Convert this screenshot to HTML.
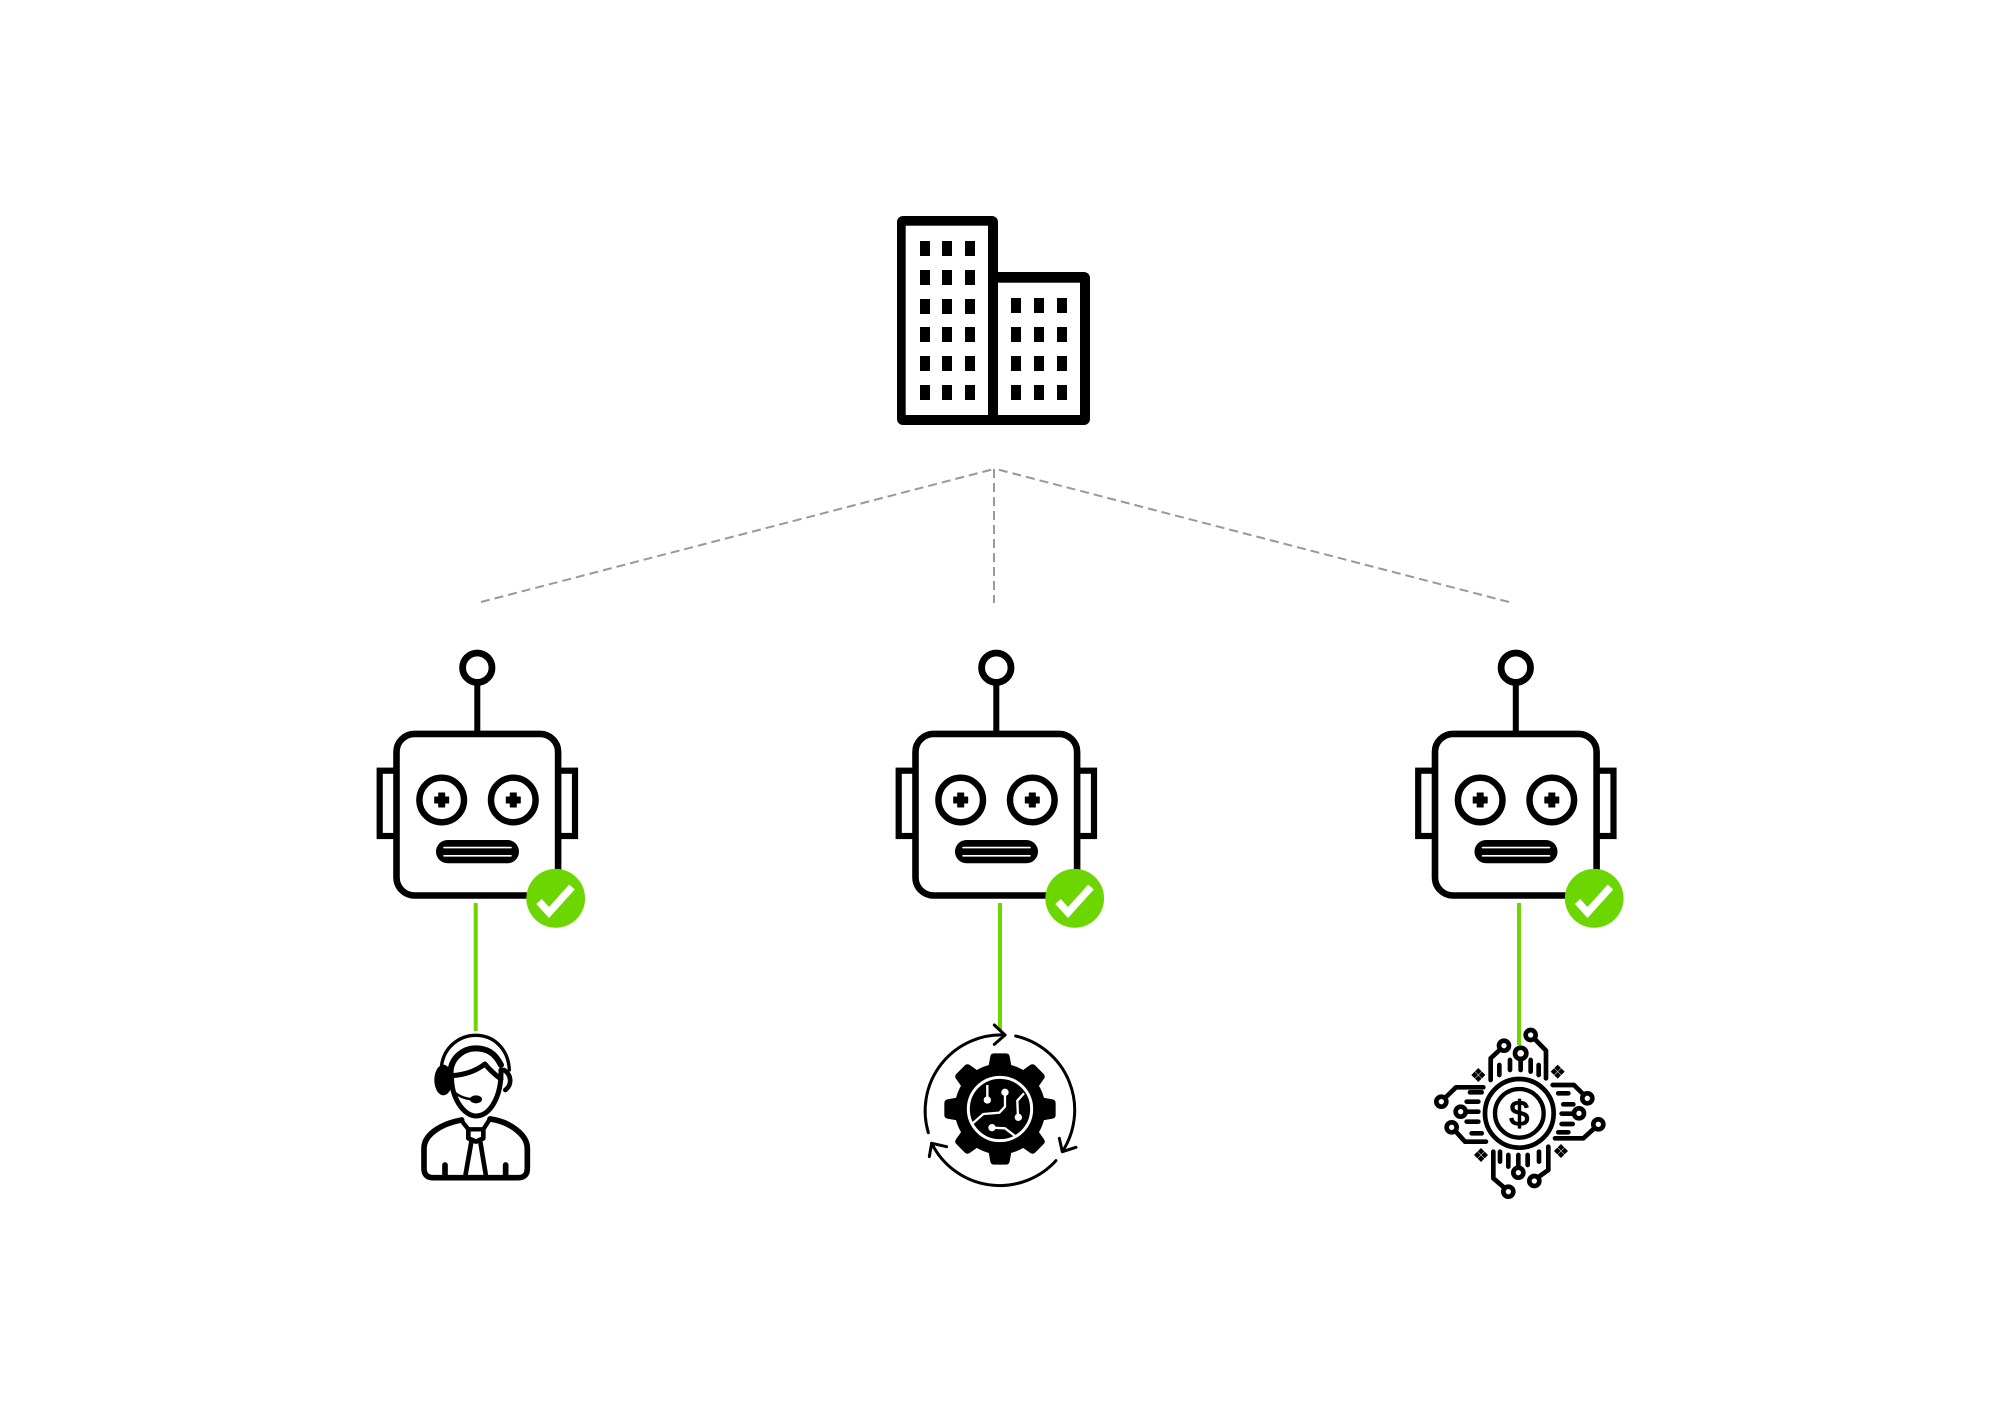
<!DOCTYPE html>
<html>
<head>
<meta charset="utf-8">
<style>
html,body{margin:0;padding:0;background:#fff}
svg{display:block}
</style>
</head>
<body>
<svg xmlns="http://www.w3.org/2000/svg" width="2000" height="1414" viewBox="0 0 2000 1414">
<rect width="2000" height="1414" fill="#fff"/>
<defs>
<g id="robot">
  <rect x="379.7" y="770.7" width="20" height="65.3" fill="#fff" stroke="#000" stroke-width="6.2"/>
  <rect x="555" y="770.7" width="20" height="65.3" fill="#fff" stroke="#000" stroke-width="6.2"/>
  <circle cx="477.3" cy="667.7" r="14.7" fill="#fff" stroke="#000" stroke-width="6.8"/>
  <rect x="474.3" y="682" width="6" height="52" fill="#000"/>
  <rect x="396.5" y="733.9" width="161.6" height="161.6" rx="18" fill="#fff" stroke="#000" stroke-width="6.6"/>
  <circle cx="441.7" cy="800" r="22.3" fill="#fff" stroke="#000" stroke-width="6.4"/>
  <circle cx="513.3" cy="800" r="22.3" fill="#fff" stroke="#000" stroke-width="6.4"/>
  <path d="M438.7 793h6v4h4v6h-4v4h-6v-4h-4v-6h4z" fill="#000" stroke="#000" stroke-width="1" stroke-linejoin="round"/>
  <path d="M510.3 793h6v4h4v6h-4v4h-6v-4h-4v-6h4z" fill="#000" stroke="#000" stroke-width="1" stroke-linejoin="round"/>
  <rect x="436" y="840" width="83" height="23.3" rx="11.6" fill="#000"/>
  <path d="M444 847.6H511M444 855.8H511" stroke="#fff" stroke-width="1.6" stroke-linecap="round"/>
  <circle cx="555.7" cy="898.3" r="29.4" fill="#6cd700"/>
  <path d="M539 901.5L549 912.5L572 887" fill="none" stroke="#fff" stroke-width="7.4"/>
</g>
<path id="tooth" d="M-40-95L-29-158Q-27-167-18-167H18Q27-167 29-158L40-95Z" fill="#000"/>
</defs>

<!-- dashed connectors -->
<g fill="none" stroke="#999" stroke-width="2" stroke-dasharray="9 5">
  <path d="M481 602L994 469"/>
  <path d="M994 469V603"/>
  <path d="M1509 602L996 469"/>
</g>

<!-- building -->
<path d="M897 222a6 6 0 0 1 6-6h89a6 6 0 0 1 6 6v50h86a6 6 0 0 1 6 6v141a6 6 0 0 1-6 6H903a6 6 0 0 1-6-6z" fill="#000"/>
<rect x="905.7" y="225.7" width="82.3" height="189.3" fill="#fff"/>
<rect x="998" y="282.7" width="82" height="132.3" fill="#fff"/>
<g fill="#000">
  <rect x="920" y="241" width="10" height="15"/><rect x="942" y="241" width="10" height="15"/><rect x="965" y="241" width="10" height="15"/>
  <rect x="920" y="270" width="10" height="15"/><rect x="942" y="270" width="10" height="15"/><rect x="965" y="270" width="10" height="15"/>
  <rect x="920" y="299" width="10" height="15"/><rect x="942" y="299" width="10" height="15"/><rect x="965" y="299" width="10" height="15"/>
  <rect x="920" y="327" width="10" height="15"/><rect x="942" y="327" width="10" height="15"/><rect x="965" y="327" width="10" height="15"/>
  <rect x="920" y="356" width="10" height="15"/><rect x="942" y="356" width="10" height="15"/><rect x="965" y="356" width="10" height="15"/>
  <rect x="920" y="385" width="10" height="15"/><rect x="942" y="385" width="10" height="15"/><rect x="965" y="385" width="10" height="15"/>
  <rect x="1011" y="298" width="10" height="15"/><rect x="1034" y="298" width="10" height="15"/><rect x="1057" y="298" width="10" height="15"/>
  <rect x="1011" y="327" width="10" height="15"/><rect x="1034" y="327" width="10" height="15"/><rect x="1057" y="327" width="10" height="15"/>
  <rect x="1011" y="356" width="10" height="15"/><rect x="1034" y="356" width="10" height="15"/><rect x="1057" y="356" width="10" height="15"/>
  <rect x="1011" y="385" width="10" height="15"/><rect x="1034" y="385" width="10" height="15"/><rect x="1057" y="385" width="10" height="15"/>
</g>

<!-- green links -->
<g fill="#6cd700">
  <rect x="473.7" y="903" width="4" height="128"/>
  <rect x="998" y="903" width="4" height="128"/>
  <rect x="1517" y="903" width="4" height="142"/>
</g>

<!-- robots -->
<use href="#robot"/>
<use href="#robot" x="519"/>
<use href="#robot" x="1038.5"/>

<!-- agent -->
<g transform="translate(400 1010) scale(.3333)" fill="none" stroke="#000" stroke-linecap="round" stroke-linejoin="round">
  <path d="M124 172C130 110 180 76 227 76C280 76 325 115 328 180" stroke-width="10"/>
  <ellipse cx="130" cy="210" rx="27" ry="46" fill="#000" stroke="none"/>
  <path d="M312 180C336 195 336 225 316 240" stroke-width="14"/>
  <path d="M152 195C148 150 185 115 228 115C262 115 285 130 303 165" stroke-width="18"/>
  <path d="M155 197C190 195 225 185 255 162C265 175 285 195 303 207" stroke-width="15"/>
  <path d="M155 197C152 260 190 318 228 318C270 318 305 260 303 180" stroke-width="15"/>
  <path d="M160 245C175 258 190 265 215 268" stroke-width="8"/>
  <ellipse cx="228" cy="268" rx="18" ry="12" fill="#000" stroke="none"/>
  <path d="M185 330C120 342 72 375 72 415V475Q72 503 100 503H355Q382 503 382 475V415C382 375 330 335 270 327" stroke-width="17"/>
  <path d="M187 335L205 358H250L268 330" stroke-width="13"/>
  <path d="M205 358L205 385L228 395L250 385L250 358" stroke-width="14"/>
  <path d="M215 390L196 498M240 390L258 498" stroke-width="14"/>
  <path d="M135 465V498M317 465V498" stroke-width="17"/>
</g>

<!-- gear -->
<g transform="translate(900 1010) scale(.3333)">
  <g fill="none" stroke="#000" stroke-width="9" stroke-linecap="round" stroke-linejoin="round">
    <path d="M85 368A228 228 0 0 1 315 75"/>
    <path d="M283 45L315 75L283 103"/>
    <path d="M347 78A228 228 0 0 1 487 425"/>
    <path d="M478 385L487 425L528 412"/>
    <path d="M468 452A228 228 0 0 1 95 400"/>
    <path d="M140 410L95 400L88 440"/>
  </g>
  <g transform="translate(300 297)">
    <circle r="136" fill="#000"/>
    <use href="#tooth"/>
    <use href="#tooth" transform="rotate(45)"/>
    <use href="#tooth" transform="rotate(90)"/>
    <use href="#tooth" transform="rotate(135)"/>
    <use href="#tooth" transform="rotate(180)"/>
    <use href="#tooth" transform="rotate(225)"/>
    <use href="#tooth" transform="rotate(270)"/>
    <use href="#tooth" transform="rotate(315)"/>
  </g>
  <circle cx="300" cy="297" r="95" fill="#000" stroke="#fff" stroke-width="9"/>
  <g fill="none" stroke="#fff" stroke-width="7" stroke-linejoin="round">
    <path d="M262 225V270"/>
    <path d="M315 247V290L298 308L250 312L218 340"/>
    <path d="M372 250L352 272L354 322"/>
    <path d="M276 353L315 355L345 378"/>
  </g>
  <g fill="#fff">
    <circle cx="262" cy="270" r="11"/>
    <circle cx="315" cy="247" r="11"/>
    <circle cx="355" cy="322" r="11"/>
    <circle cx="276" cy="353" r="11"/>
  </g>
</g>

<!-- finance -->
<g transform="translate(1420 1010) scale(.3333)" fill="none" stroke="#000" stroke-width="14" stroke-linecap="round" stroke-linejoin="round">
  <circle cx="298" cy="310" r="103" stroke-width="14"/>
  <circle cx="298" cy="310" r="73" stroke-width="13"/>
  <text x="298" y="347" font-family="'Liberation Sans',sans-serif" font-size="106" text-anchor="middle" fill="#000" stroke="#000" stroke-width="4">$</text>
  <circle cx="302" cy="130" r="17" fill="#fff"/><path d="M302 147V180"/>
  <circle cx="252" cy="107" r="15" fill="#fff"/><path d="M241 118L212 145V210"/>
  <circle cx="332" cy="75" r="15" fill="#fff"/><path d="M343 86L378 122V205"/>
  <path d="M238 165V195M270 150V180M332 150V185M356 165V195"/>
  <circle cx="64" cy="275" r="15" fill="#fff"/><path d="M75 264L108 232H190"/>
  <circle cx="122" cy="305" r="15" fill="#fff"/><path d="M137 305H175"/>
  <path d="M150 247H185M140 275H175M140 335H175M155 370H185"/>
  <circle cx="95" cy="352" r="15" fill="#fff"/><path d="M106 363L135 395H198"/>
  <circle cx="502" cy="265" r="15" fill="#fff"/><path d="M491 254L462 225H398"/>
  <path d="M415 250H445M430 283H460M425 342H458M415 367H445"/>
  <circle cx="477" cy="310" r="15" fill="#fff"/><path d="M462 311H425"/>
  <circle cx="535" cy="343" r="15" fill="#fff"/><path d="M524 354L490 385H405"/>
  <circle cx="295" cy="488" r="15" fill="#fff"/><path d="M295 473V435"/>
  <circle cx="265" cy="545" r="15" fill="#fff"/><path d="M254 534L220 505V425"/>
  <circle cx="343" cy="513" r="15" fill="#fff"/><path d="M354 502L385 480V410"/>
  <path d="M240 425V455M265 435V470M323 435V465M357 425V455"/>
  <g fill="#000" stroke="none">
    <path d="M175 174l10 10-10 10-10-10zM175 196l10 10-10 10-10-10zM164 185l10 10-10 10-10-10zM186 185l10 10-10 10-10-10z"/>
    <path d="M413 164l10 10-10 10-10-10zM413 186l10 10-10 10-10-10zM402 175l10 10-10 10-10-10zM424 175l10 10-10 10-10-10z"/>
    <path d="M183 414l10 10-10 10-10-10zM183 436l10 10-10 10-10-10zM172 425l10 10-10 10-10-10zM194 425l10 10-10 10-10-10z"/>
    <path d="M423 402l10 10-10 10-10-10zM423 424l10 10-10 10-10-10zM412 413l10 10-10 10-10-10zM434 413l10 10-10 10-10-10z"/>
  </g>
</g>
</svg>
</body>
</html>
